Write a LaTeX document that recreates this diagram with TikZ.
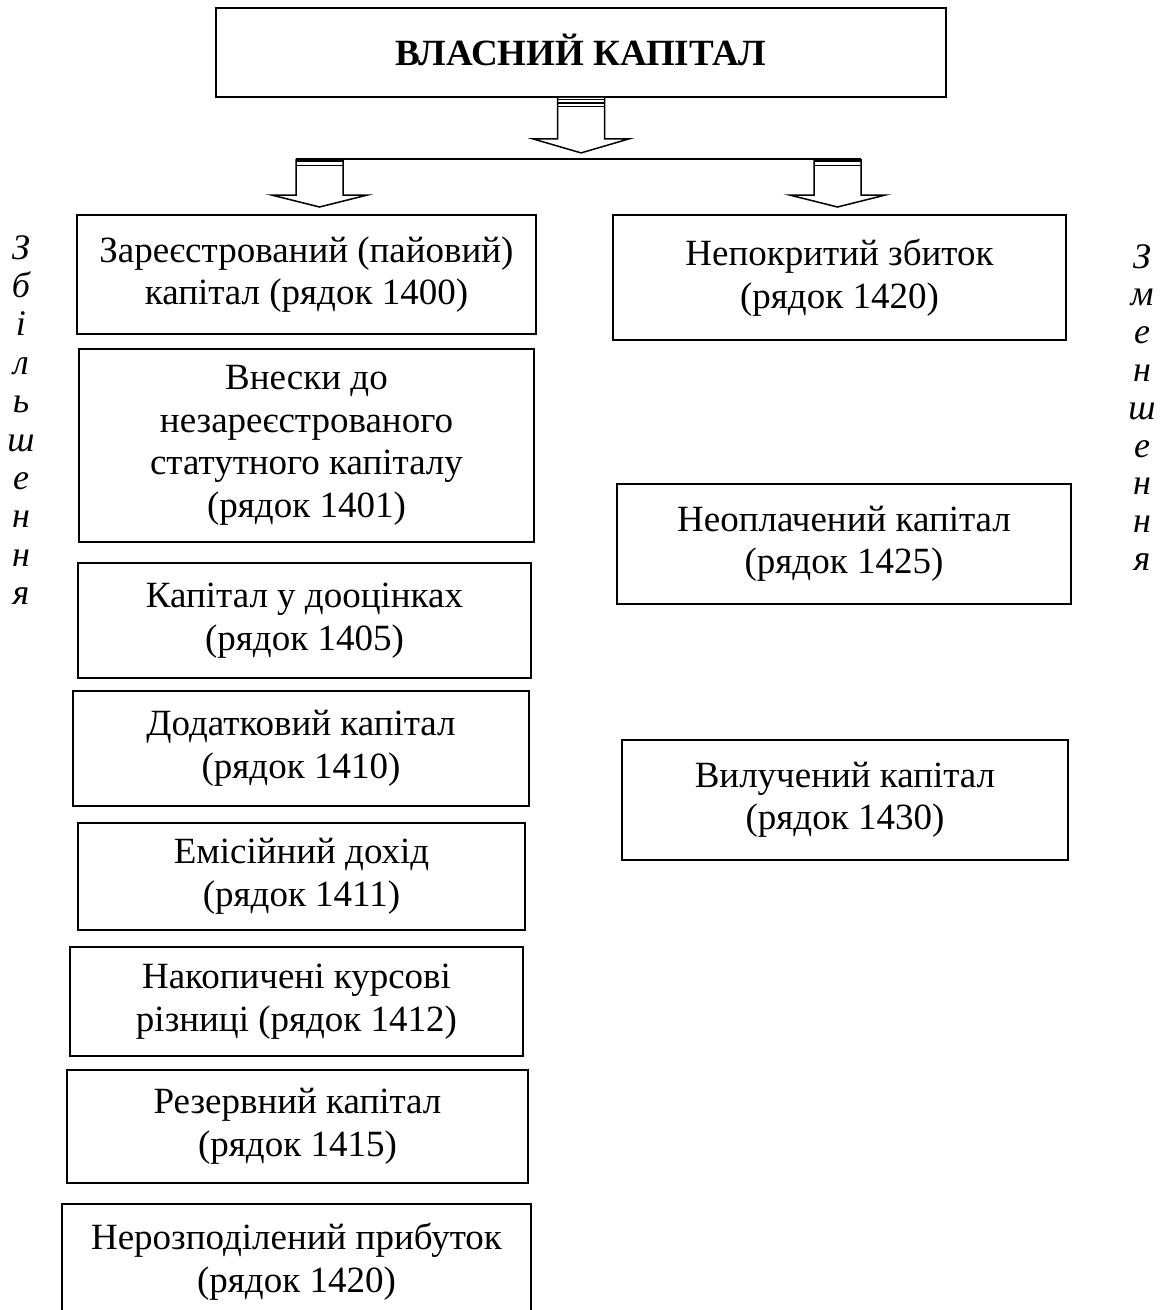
\documentclass[tikz,border=0pt]{standalone}
\usepackage{fontspec}
\setmainfont{Liberation Serif}
\tikzset{
  box/.style={draw,line width=1.5pt,inner sep=0pt,align=center,font=\fontsize{37}{42.5}\selectfont},
  sidel/.style={font=\fontsize{36}{38}\selectfont\itshape,inner sep=0pt,anchor=base},
  arrowline/.style={draw,line width=1.5pt,fill=white,line join=miter},
  pics/blockarrow/.style 2 args={code={
    \draw[arrowline] (-23.5,0) -- (-23.5,#1) -- (-48,#1) -- (0,#2) -- (48,#1) -- (23.5,#1) -- (23.5,0);
  }}
}
\begin{document}
\begin{tikzpicture}[x=1pt,y=-1pt]
\useasboundingbox (0,0) rectangle (1164,1310);
\clip (0,0) rectangle (1164,1310);

% top box
\node[box,line width=1.8pt,minimum width=730pt,minimum height=89pt,text height=26pt,text depth=0pt,
      font=\fontsize{37}{42.5}\selectfont\bfseries] (top) at (581,52.5) {ВЛАСНИЙ КАПІТАЛ};

% left column
\node[box,minimum width=459pt,minimum height=119pt] (l1) at (306.5,274.5) {Зареєстрований (пайовий)\\капітал (рядок 1400)};
\node[box,minimum width=455pt,minimum height=193pt] (l2) at (306.5,445.5) {Внески до\\незареєстрованого\\статутного капіталу\\(рядок 1401)};
\node[box,minimum width=453pt,minimum height=115pt] (l3) at (304.5,620.5) {Капітал у дооцінках\\(рядок 1405)};
\node[box,minimum width=456pt,minimum height=115pt] (l4) at (301,748.5) {Додатковий капітал\\(рядок 1410)};
\node[box,minimum width=447pt,minimum height=107pt] (l5) at (301.5,876.5) {Емісійний дохід\\(рядок 1411)};
\node[box,minimum width=453pt,minimum height=109pt] (l6) at (296.5,1001.5) {Накопичені курсові\\різниці (рядок 1412)};
\node[box,minimum width=461pt,minimum height=113pt] (l7) at (297.5,1126.5) {Резервний капітал\\(рядок 1415)};
\node[box,minimum width=469pt,minimum height=115pt] (l8) at (296.5,1261.5) {Нерозподілений прибуток\\(рядок 1420)};

% right column
\node[box,minimum width=453pt,minimum height=125pt] (r1) at (839.5,277.5) {Непокритий збиток\\(рядок 1420)};
\node[box,minimum width=454pt,minimum height=120pt] (r2) at (844,544) {Неоплачений капітал\\(рядок 1425)};
\node[box,minimum width=446pt,minimum height=120pt] (r3) at (845,800) {Вилучений капітал\\(рядок 1430)};

% side vertical words
\foreach \ch [count=\i] in {З,б,і,л,ь,ш,е,н,н,я}
  \node[sidel] (inc\i) at (21,{259+38.4*(\i-1)}) {\ch};
\foreach \ch [count=\i] in {З,м,е,н,ш,е,н,н,я}
  \node[sidel] (dec\i) at (1142,{268+37.8*(\i-1)}) {\ch};

% connectors
\coordinate (barL) at (319.5,159);
\coordinate (barR) at (837.5,159);
\draw[line width=1.5pt] ([xshift=-23.5pt]barL) -- ([xshift=23.5pt]barR);

\pic at (top.south) {blockarrow={41}{55}};
\pic at (barL) {blockarrow={36}{48}};
\pic at (barR) {blockarrow={36}{48}};

\foreach \d in {1.5,5,8.5}
  \draw[line width=1.3pt] ([shift={(-23.5,\d)}]top.south) -- ([shift={(23.5,\d)}]top.south);
\foreach \c in {barL,barR}{
  \draw[line width=3pt] ([shift={(-23.5,1.5)}]\c) -- ([shift={(23.5,1.5)}]\c);
  \draw[line width=1pt] ([shift={(-23.5,6.5)}]\c) -- ([shift={(23.5,6.5)}]\c);
}
\end{tikzpicture}
\end{document}
